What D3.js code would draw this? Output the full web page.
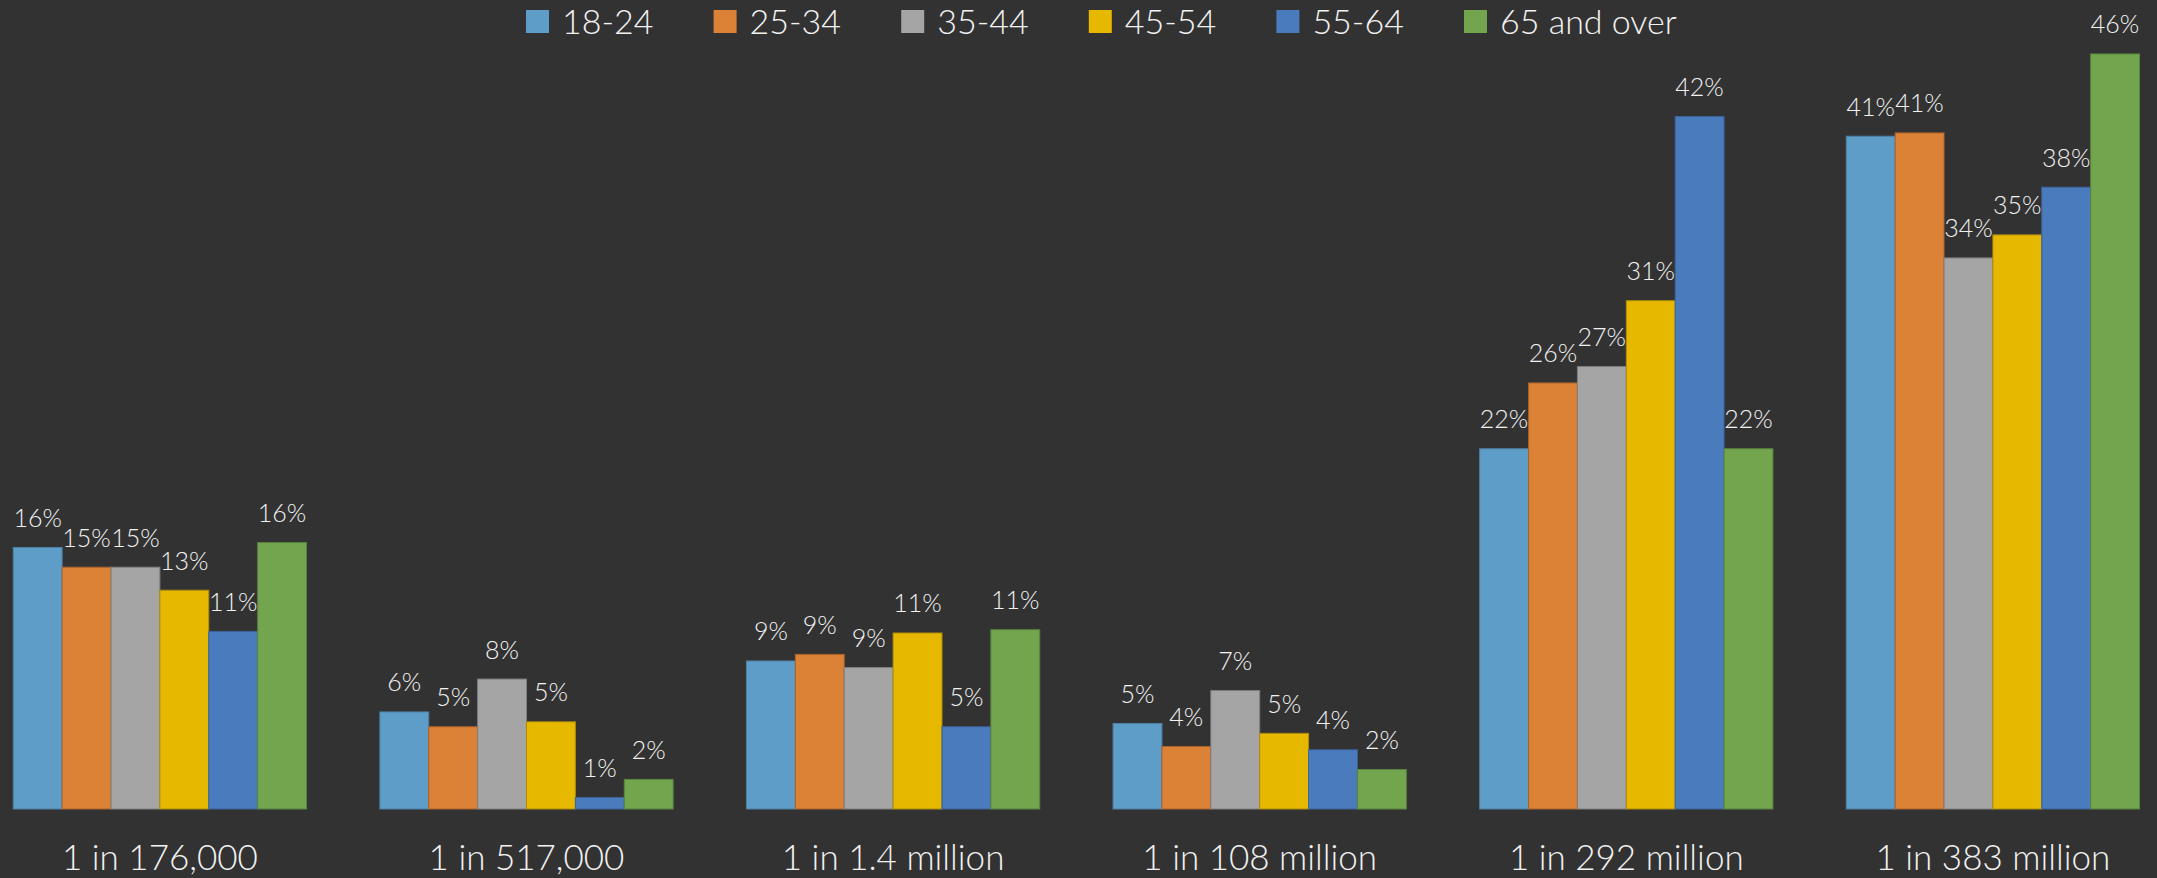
<!DOCTYPE html>
<html>
<head>
<meta charset="utf-8">
<script src="https://cdn.jsdelivr.net/npm/d3@7"></script>
<style>
  html, body { margin: 0; padding: 0; background: #323232; }
  svg { display: block; }
  text { font-family: "Lato", "Open Sans", sans-serif; font-weight: 300; fill: #F2F2F2; }
</style>
</head>
<body>
<svg id="chart" width="2157" height="878"></svg>
<script>
// Odds categories along the x axis
const categories = ["1 in 176,000", "1 in 517,000", "1 in 1.4 million", "1 in 108 million", "1 in 292 million", "1 in 383 million"];

// Age groups (series)
const ageGroups = ["18-24", "25-34", "35-44", "45-54", "55-64", "65 and over"];

// Share of respondents per age group, one array per age group, ordered by category
const age18to24 = [0.159, 0.059, 0.090, 0.052, 0.219, 0.409];
const age25to34 = [0.147, 0.050, 0.094, 0.038, 0.259, 0.411];
const age35to44 = [0.147, 0.079, 0.086, 0.072, 0.269, 0.335];
const age45to54 = [0.133, 0.053, 0.107, 0.046, 0.309, 0.349];
const age55to64 = [0.108, 0.007, 0.050, 0.036, 0.421, 0.378];
const age65plus = [0.162, 0.018, 0.109, 0.024, 0.219, 0.459];

const seriesValues = [age18to24, age25to34, age35to44, age45to54, age55to64, age65plus];
const colors = ["#5E9DC8", "#DC8237", "#A5A5A5", "#E6B900", "#4A7BBD", "#72A54D"];
const strokes = ["#4F7FA3", "#A9622C", "#7E7E7E", "#AE8C0B", "#3D6398", "#5A8340"];

const svg = d3.select("#chart");
const baseline = 809;

// Group positions across the width (plot area slightly wider than the view)
const x0 = d3.scaleBand()
  .domain(categories)
  .range([-23.4, 2176.2])
  .paddingInner(0.2)
  .paddingOuter(0.1);

const x1 = d3.scaleBand()
  .domain(ageGroups)
  .range([0, x0.bandwidth()]);

const y = d3.scaleLinear()
  .domain([0, 0.5])
  .range([baseline, baseline - 0.5 * 1645]);

const fmt = d3.format(".0%");

const rows = categories.map((c, ci) => ({
  category: c,
  values: ageGroups.map((g, gi) => ({ group: g, gi, value: seriesValues[gi][ci] }))
}));

const groups = svg.append("g").selectAll("g")
  .data(rows)
  .join("g")
  .attr("transform", d => `translate(${x0(d.category)},0)`);

groups.selectAll("rect")
  .data(d => d.values)
  .join("rect")
  .attr("x", d => x1(d.group))
  .attr("y", d => y(d.value))
  .attr("width", x1.bandwidth())
  .attr("height", d => y(0) - y(d.value))
  .attr("fill", d => colors[d.gi])
  .attr("stroke", d => strokes[d.gi])
  .attr("stroke-width", 1);

groups.selectAll("text.val")
  .data(d => d.values)
  .join("text")
  .attr("class", "val")
  .attr("x", d => x1(d.group) + x1.bandwidth() / 2)
  .attr("y", d => y(d.value) - 20.5)
  .attr("text-anchor", "middle")
  .style("font-size", "25px")
  .text(d => fmt(d.value));

// Category axis labels
const xAxis = d3.axisBottom(x0).tickSize(0).tickPadding(0);
const axisG = svg.append("g")
  .attr("transform", `translate(0,${baseline})`)
  .call(xAxis);
axisG.select(".domain").remove();
axisG.selectAll("text")
  .attr("y", 61)
  .attr("dy", 0)
  .style("font-size", "35px")
  .style("font-family", "Lato, 'Open Sans', sans-serif")
  .style("font-weight", 300)
  .attr("fill", "#F2F2F2");

// Legend across the top
const legendStep = 187.6;
const legend = svg.append("g").attr("transform", "translate(526,0)");
const items = legend.selectAll("g")
  .data(ageGroups)
  .join("g")
  .attr("transform", (d, i) => `translate(${i * legendStep},0)`);
items.append("rect")
  .attr("x", 0).attr("y", 10)
  .attr("width", 23).attr("height", 23)
  .attr("fill", (d, i) => colors[i]);
items.append("text")
  .attr("x", 36).attr("y", 34)
  .style("font-size", "34px")
  .text(d => d);
</script>
</body>
</html>
